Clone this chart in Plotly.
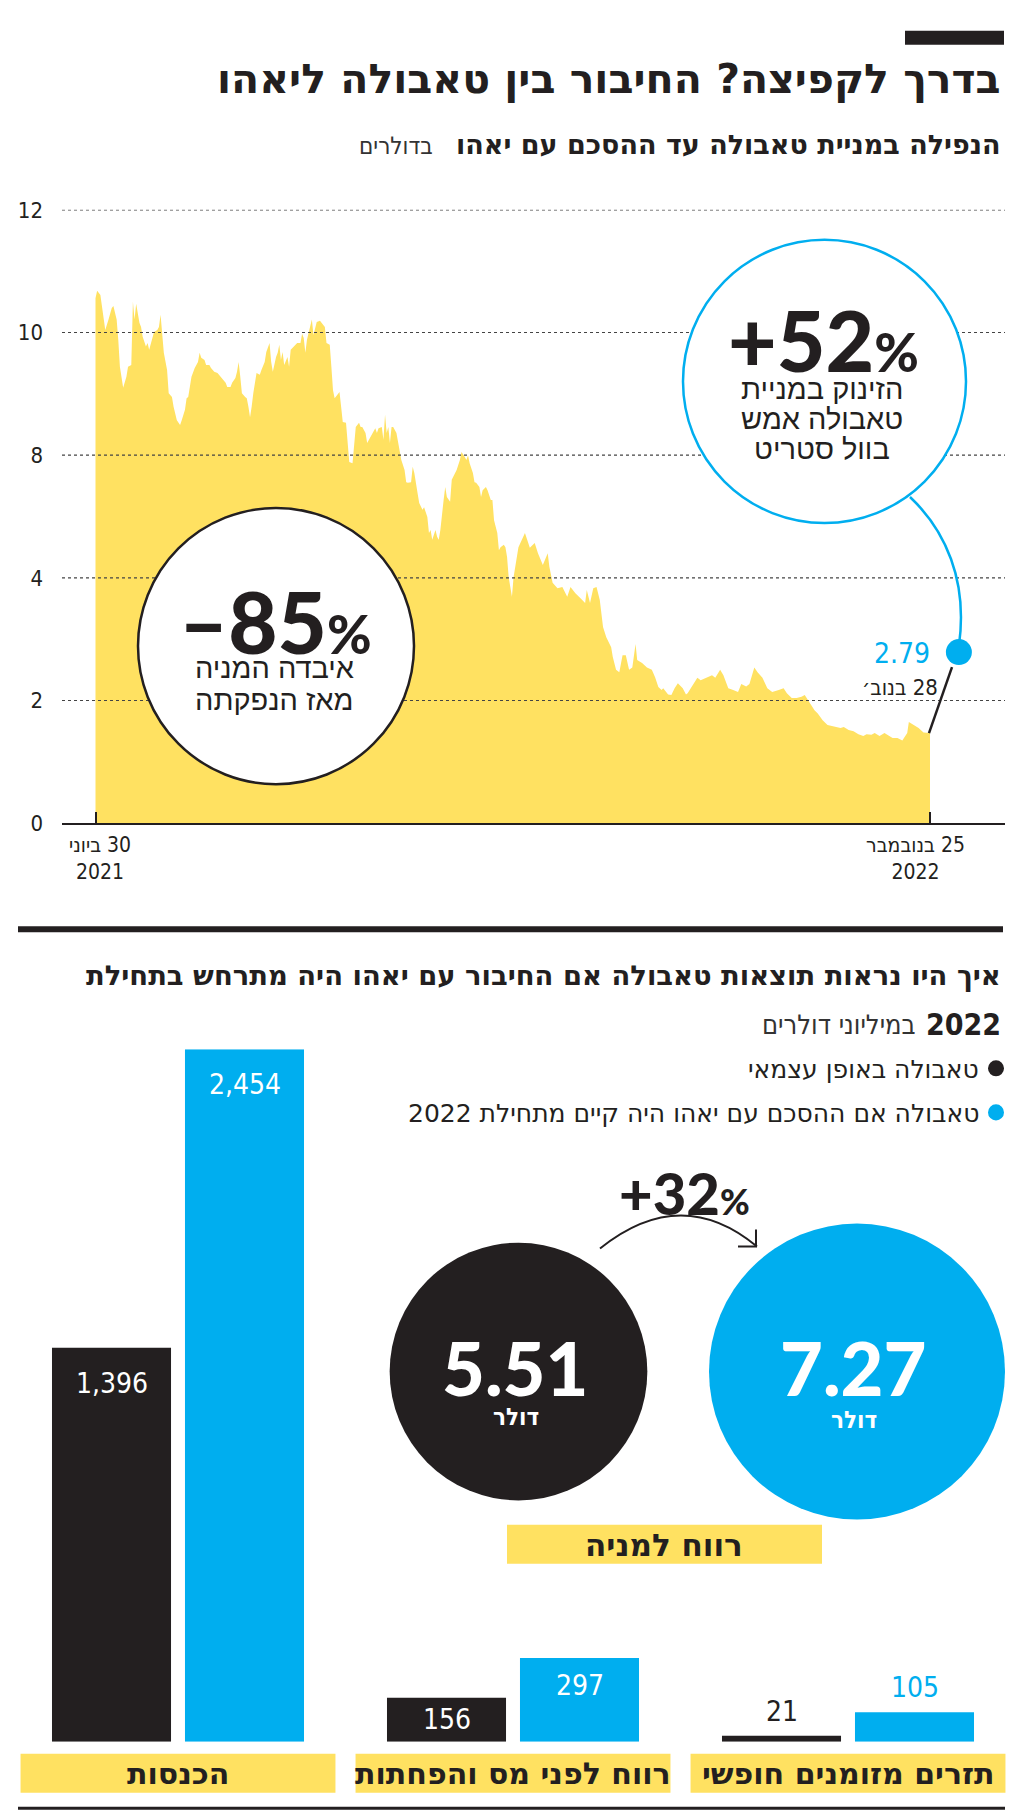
import plotly.graph_objects as go
import pandas as pd

# ---------------- data: share price chart ----------------
listing_date = "2021-06-30"
days_since_listing = [
    0, 1, 3, 5, 6, 8, 10, 11, 13, 14, 15, 17, 19, 20, 22, 23, 24, 25, 27, 28,
    29, 31, 32, 33, 35, 36, 38, 39, 40, 41, 42, 44, 45, 47, 48, 50, 52, 53, 55, 56,
    57, 59, 61, 63, 64, 65, 67, 68, 70, 71, 73, 75, 77, 78, 80, 81, 83, 84, 86, 87,
    88, 89, 90, 92, 93, 94, 95, 96, 97, 99, 101, 102, 104, 105, 107, 108, 109, 111, 112, 113,
    114, 115, 116, 118, 119, 120, 122, 123, 124, 126, 127, 128, 129, 130, 131, 133, 134, 135, 136, 138,
    139, 141, 142, 144, 145, 146, 147, 149, 150, 151, 152, 154, 155, 156, 158, 159, 160, 162, 163, 164,
    166, 167, 169, 170, 172, 173, 174, 176, 177, 178, 179, 180, 181, 182, 183, 185, 187, 188, 190, 191,
    192, 194, 195, 196, 198, 199, 201, 202, 204, 205, 206, 207, 209, 210, 211, 212, 214, 215, 216, 218,
    219, 221, 222, 224, 225, 227, 228, 229, 230, 232, 233, 234, 236, 237, 238, 240, 241, 243, 244, 245,
    247, 248, 249, 251, 252, 253, 254, 256, 257, 260, 262, 264, 267, 270, 272, 275, 278, 279, 281, 284,
    287, 290, 292, 295, 298, 301, 302, 304, 306, 308, 310, 312, 314, 317, 318, 320, 322, 324, 326, 328,
    330, 332, 333, 336, 339, 342, 344, 346, 348, 349, 352, 354, 356, 358, 361, 363, 364, 367, 370, 372,
    376, 379, 381, 384, 386, 389, 392, 395, 397, 400, 402, 405, 407, 410, 413, 416, 420, 423, 425, 428,
    431, 434, 436, 438, 440, 442, 444, 447, 450, 453, 455, 458, 460, 463, 466, 469, 472, 474, 477, 479,
    482, 485, 488, 490, 493, 496, 499, 500, 503, 506, 509, 513,
]
# price read in the chart's own (evenly spaced) gridline units
price_axis_units = [
    8.56, 8.68, 8.61, 8.21, 8.04, 8.21, 8.40, 8.43, 8.21, 7.88, 7.44, 7.10, 7.28, 7.44, 7.47, 8.50, 8.21, 8.47, 8.16, 8.09,
    7.93, 7.77, 7.83, 7.72, 7.93, 8.01, 8.04, 8.09, 8.29, 7.99, 7.67, 7.39, 7.01, 6.95, 6.79, 6.57, 6.49, 6.57, 6.74, 6.93,
    6.95, 7.28, 7.42, 7.52, 7.67, 7.59, 7.55, 7.47, 7.47, 7.42, 7.36, 7.34, 7.28, 7.24, 7.18, 7.11, 7.11, 7.18, 7.26, 7.36,
    7.52, 7.28, 7.01, 6.95, 6.93, 6.79, 6.62, 6.79, 7.01, 7.34, 7.31, 7.39, 7.52, 7.68, 7.83, 7.52, 7.36, 7.60, 7.67, 7.80,
    7.55, 7.68, 7.47, 7.60, 7.44, 7.72, 7.77, 7.80, 7.83, 7.83, 7.98, 7.91, 7.67, 7.88, 8.01, 8.21, 7.96, 8.09, 8.17, 8.19,
    8.16, 8.09, 7.83, 7.80, 7.44, 7.06, 6.93, 7.01, 7.03, 6.79, 6.54, 6.53, 6.25, 5.89, 5.87, 6.20, 6.46, 6.53, 6.46, 6.46,
    6.36, 6.20, 6.30, 6.36, 6.44, 6.36, 6.44, 6.46, 6.25, 6.66, 6.36, 6.46, 6.20, 6.46, 6.46, 6.36, 6.08, 5.92, 5.76, 5.56,
    5.55, 5.56, 5.81, 5.71, 5.38, 5.22, 5.11, 5.15, 4.99, 4.73, 4.78, 4.62, 4.78, 4.67, 4.62, 4.78, 5.27, 5.48, 5.32, 5.24,
    5.60, 5.71, 5.76, 5.92, 6.05, 5.97, 5.92, 6.00, 5.87, 5.71, 5.56, 5.55, 5.48, 5.32, 5.43, 5.48, 5.43, 5.27, 5.27, 4.94,
    4.73, 4.45, 4.50, 4.54, 4.50, 4.34, 4.01, 3.69, 4.01, 4.50, 4.62, 4.73, 4.49, 4.57, 4.40, 4.21, 4.40, 4.18, 3.92, 3.83,
    3.85, 3.69, 3.85, 3.75, 3.67, 3.59, 3.80, 3.59, 3.83, 3.85, 3.64, 3.20, 3.03, 2.87, 2.71, 2.50, 2.46, 2.74, 2.74, 2.50,
    2.54, 2.92, 2.66, 2.61, 2.54, 2.50, 2.38, 2.22, 2.17, 2.20, 2.10, 2.09, 2.20, 2.28, 2.20, 2.10, 2.12, 2.25, 2.37, 2.33,
    2.38, 2.41, 2.37, 2.50, 2.41, 2.20, 2.17, 2.14, 2.27, 2.23, 2.27, 2.54, 2.46, 2.37, 2.20, 2.14, 2.17, 2.20, 2.12, 2.04,
    2.04, 2.06, 2.09, 2.01, 1.92, 1.84, 1.79, 1.68, 1.60, 1.58, 1.57, 1.55, 1.57, 1.52, 1.50, 1.45, 1.42, 1.45, 1.44, 1.47,
    1.42, 1.47, 1.42, 1.39, 1.39, 1.35, 1.47, 1.65, 1.60, 1.55, 1.48, 1.47,
]
y_tick_positions = [0, 2, 4, 6, 8, 10]
y_tick_labels = ["0", "2", "4", "8", "10", "12"]
x_tick_dates = ["2021-06-30", "2022-11-25"]
x_tick_labels = [["30 ביוני", "2021"], ["25 בנובמבר", "2022"]]
callout_date = "2022-11-28"
callout_price = 2.79

# ---------------- data: results comparison ----------------
categories = ["הכנסות", "רווח לפני מס והפחתות", "תזרים מזומנים חופשי"]
standalone = [1396, 156, 21]
with_yahoo = [2454, 297, 105]
series_names = ["טאבולה באופן עצמאי", "טאבולה אם ההסכם עם יאהו היה קיים מתחילת 2022"]
eps_values = [5.51, 7.27]

# ---------------- style ----------------
W = 1024
FIG_H = 1826          # figure height
V_OFF, V_SCALE = 12.3, 0.9857   # how the page lands in the photographed frame (vertical)
DARK = "#231f20"
BLUE = "#00aeef"
YELLOW = "#ffe161"
COND = "DejaVu Sans Condensed, DejaVu Sans, sans-serif"
WIDE = "DejaVu Sans, sans-serif"
REG = "Liberation Sans, Arimo, DejaVu Sans, sans-serif"
HEAVY = "Lato, Inter, DejaVu Sans, sans-serif"
RLE, PDF = "\u202b", "\u202c"


def rtl(s):
    return RLE + s + PDF


def px(x):
    return x / W


def py(y):
    return 1 - ((y - V_OFF) / V_SCALE) / FIG_H


annotations = []
shapes = []


def text(t, x, y, size, color=DARK, family=COND, weight="normal", xanchor="center", yanchor="middle"):
    annotations.append(dict(
        text=t, x=px(x), y=py(y), xref="paper", yref="paper", showarrow=False,
        xanchor=xanchor, yanchor=yanchor,
        font=dict(size=size, color=color, family=family, weight=weight),
    ))


def rect(x0, y0, x1, y1, color):
    shapes.append(dict(type="rect", xref="paper", yref="paper", x0=px(x0), x1=px(x1),
                       y0=py(y1), y1=py(y0), fillcolor=color, line=dict(width=0), layer="above"))


def circle(x0, y0, x1, y1, line_color, fill, width=2.5):
    shapes.append(dict(type="circle", xref="paper", yref="paper", x0=px(x0), x1=px(x1),
                       y0=py(y1), y1=py(y0), fillcolor=fill, line=dict(color=line_color, width=width),
                       layer="above"))


def path(cmd, color, width):
    shapes.append(dict(type="path", xref="paper", yref="paper", path=cmd,
                       line=dict(color=color, width=width), layer="above"))


def P(x, y):
    return f"{px(x):.5f},{py(y):.5f}"


dates = pd.Timestamp(listing_date) + pd.to_timedelta(days_since_listing, unit="D")

fig = go.Figure()

# ---- area chart ----
fig.add_trace(go.Scatter(
    x=dates, y=price_axis_units, mode="lines", fill="tozeroy",
    fillcolor=YELLOW, line=dict(width=0, color=YELLOW), xaxis="x", yaxis="y",
    hoverinfo="skip", showlegend=False,
))

# gridlines drawn above the area (as in the reference)
for v in y_tick_positions[1:]:
    shapes.append(dict(type="line", xref="x domain", yref="y", x0=0, x1=1, y0=v, y1=v,
                       line=dict(color="#444444", width=1.2, dash="dot"), layer="above"))

# ---- bars ----
for name, vals, col in [(series_names[0], standalone, DARK), (series_names[1], with_yahoo, BLUE)]:
    fig.add_trace(go.Bar(
        x=list(range(len(categories))), y=vals, name=name, marker=dict(color=col, line=dict(width=0)),
        xaxis="x2", yaxis="y2", showlegend=False, hoverinfo="skip",
    ))

# ---- EPS bubbles ----
max_d = 296
fig.add_trace(go.Scatter(
    x=[0, 1], y=[0, 0], mode="markers", xaxis="x3", yaxis="y3",
    marker=dict(size=eps_values, sizemode="area", sizeref=2 * max(eps_values) / max_d ** 2,
                color=[DARK, BLUE], line=dict(width=0), opacity=1),
    showlegend=False, hoverinfo="skip", cliponaxis=False,
))

# ---------------- decorations: top ----------------
rect(905, 31, 1004, 45, DARK)
text(rtl("בדרך לקפיצה? החיבור בין טאבולה ליאהו"), 1003, 79, 41, family=WIDE, weight="bold", xanchor="right")
text(rtl("הנפילה במניית טאבולה עד ההסכם עם יאהו"), 1003, 145, 27, family=WIDE, weight="bold", xanchor="right")
text(rtl("בדולרים"), 435, 146, 24, color="#333", xanchor="right")

# bubble −85%
circle(138, 508, 414, 784, DARK, "white")
text("–85<span style='font-size:54px'>%</span>", 275, 621, 85, family=HEAVY, weight=900)
text(rtl("איבדה המניה"), 274, 668, 29, family=REG)
text(rtl("מאז הנפקתה"), 274, 700, 29, family=REG)

# bubble +52%
circle(683, 240, 966, 523, BLUE, "white")
text("+52<span style='font-size:54px'>%</span>", 823, 340, 84, family=HEAVY, weight=900)
text(rtl("הזינוק במניית"), 822, 389, 29, family=REG)
text(rtl("טאבולה אמש"), 822, 419, 29, family=REG)
text(rtl("בוול סטריט"), 822, 449, 29, family=REG)

# connectors
path(f"M {P(910, 497)} C {P(945, 530)} {P(968, 580)} {P(959, 645)}", BLUE, 2.5)
path(f"M {P(952, 667)} L {P(929, 733)}", DARK, 2.5)
shapes.append(dict(type="circle", xref="x", yref="y", xsizemode="pixel", ysizemode="pixel",
                   xanchor=callout_date, yanchor=callout_price, x0=11, x1=37, y0=-13, y1=13,
                   fillcolor=BLUE, line=dict(width=0), layer="above"))
text(f"{callout_price:.2f}", 932, 653, 28, color=BLUE, xanchor="right")
text(rtl("28 בנוב׳"), 940, 687, 22, xanchor="right")

# x tick labels (offset slightly as in the reference)
for d, (l1, l2), sh in zip(x_tick_dates, x_tick_labels, [4, -15]):
    annotations.append(dict(text=rtl(l1) + "<br>" + l2, x=d, y=0, xref="x", yref="y", showarrow=False,
                            xshift=sh, yshift=-8, yanchor="top",
                            font=dict(size=21, color=DARK, family=COND)))

# ---------------- decorations: bottom ----------------
rect(18, 926, 1003, 932, DARK)
text(rtl("איך היו נראות תוצאות טאבולה אם החיבור עם יאהו היה מתרחש בתחילת"), 1003, 976, 27.4,
     family=WIDE, weight="bold", xanchor="right")
text("2022", 1003, 1024, 30, weight="bold", xanchor="right")
text(rtl("במיליוני דולרים"), 918, 1024, 27, color="#333", xanchor="right")

# legend
for i, (name, col) in enumerate([(series_names[0], DARK), (series_names[1], BLUE)]):
    cy = 1068 + 44 * i
    circle(988, cy - 8, 1004, cy + 8, col, col, width=0)
    text(rtl(name), 981, cy + 1, 25, family=WIDE, xanchor="right")

# EPS texts
for i, v in enumerate(eps_values):
    annotations.append(dict(text=f"{v:.2f}", x=i, y=0, xref="x3", yref="y3", showarrow=False,
                            yshift=4, xshift=-4, font=dict(size=74, color="white", family=HEAVY, weight=900)))
    annotations.append(dict(text=rtl("דולר"), x=i, y=0, xref="x3", yref="y3", showarrow=False,
                            yshift=-45 - 3 * i, xshift=-3,
                            font=dict(size=24, color="white", family=COND, weight="bold")))
pct = round((eps_values[1] / eps_values[0] - 1) * 100)
text(f"+{pct}<span style='font-size:36px'>%</span>", 684, 1192, 58, family=HEAVY, weight=900)
path(f"M {P(600, 1248)} Q {P(681, 1183)} {P(757, 1246)}", DARK, 2)
path(f"M {P(738, 1246)} L {P(756, 1246)} L {P(756, 1229)}", DARK, 2)
rect(507, 1524, 822, 1563, YELLOW)
text(rtl("רווח למניה"), 664, 1544, 31, family=WIDE, weight="bold")

# bar value labels
PX_PER_UNIT = (1741 - 1049) / max(with_yahoo)
for vals, col, sh in [(standalone, DARK, -66.5), (with_yahoo, BLUE, 66.5)]:
    for i, v in enumerate(vals):
        hpx = v * PX_PER_UNIT
        label = f"{v:,}"
        if hpx >= 70:
            annotations.append(dict(text=label, x=i, y=v, xref="x2", yref="y2", showarrow=False,
                                    xshift=sh, yshift=-17 if hpx > 150 else -9, yanchor="top",
                                    font=dict(size=28, color="white", family=COND)))
        elif hpx >= 35:
            annotations.append(dict(text=label, x=i, y=v / 2, xref="x2", yref="y2", showarrow=False,
                                    xshift=sh, yanchor="middle",
                                    font=dict(size=28, color="white", family=COND)))
        else:
            annotations.append(dict(text=label, x=i, y=v, xref="x2", yref="y2", showarrow=False,
                                    xshift=sh, yshift=6, yanchor="bottom",
                                    font=dict(size=28, color=col, family=COND)))

# category boxes
for i, c in enumerate(categories):
    shapes.append(dict(type="rect", xref="x2", yref="paper", x0=i - 0.47, x1=i + 0.47,
                       y0=py(1792), y1=py(1753), fillcolor=YELLOW, line=dict(width=0), layer="above"))
    annotations.append(dict(text=rtl(c), x=i, y=py(1773), xref="x2", yref="paper", showarrow=False,
                            xanchor="center", yanchor="middle",
                            font=dict(size=30, color=DARK, family=WIDE, weight="bold")))
rect(18, 1806, 1005, 1809, DARK)

# ---------------- layout ----------------
x_left_px, x_right_px = 62, 1005
px_per_day = (930 - 95.5) / 513
start = pd.Timestamp(listing_date)
x_range = [start - pd.Timedelta(days=(95.5 - x_left_px) / px_per_day),
           start + pd.Timedelta(days=(x_right_px - 95.5) / px_per_day)]

r0 = -178 / 335
fig.update_layout(
    width=W, height=FIG_H, margin=dict(l=0, r=0, t=0, b=0),
    paper_bgcolor="white", plot_bgcolor="rgba(0,0,0,0)",
    showlegend=False,
    barmode="group", bargap=0.206, bargroupgap=0.105,
    xaxis=dict(domain=[px(x_left_px), px(x_right_px)], type="date", range=x_range,
               showgrid=False, zeroline=False, showline=True, linecolor=DARK, linewidth=2,
               ticks="inside", ticklen=11, tickwidth=2, tickcolor=DARK,
               tickvals=x_tick_dates, showticklabels=False,
               anchor="y", fixedrange=True),
    yaxis=dict(domain=[py(823), py(210)], range=[0, 10], showgrid=False, zeroline=False,
               tickvals=y_tick_positions, ticktext=y_tick_labels, ticks="",
               ticklabelstandoff=18,
               tickfont=dict(size=22, color=DARK, family=COND), anchor="x", fixedrange=True),
    xaxis2=dict(domain=[0, 1], range=[r0, r0 + W / 335], visible=False, anchor="y2"),
    yaxis2=dict(domain=[py(1741), py(1049)], range=[0, max(with_yahoo)], visible=False, anchor="x2"),
    xaxis3=dict(domain=[0, 1], range=[-518.5 / 338.5, -518.5 / 338.5 + W / 338.5], visible=False,
                anchor="y3"),
    yaxis3=dict(domain=[py(1521), py(1221)], range=[-1, 1], visible=False, anchor="x3"),
    shapes=shapes,
    annotations=annotations,
)

fig.write_html("out.html")
